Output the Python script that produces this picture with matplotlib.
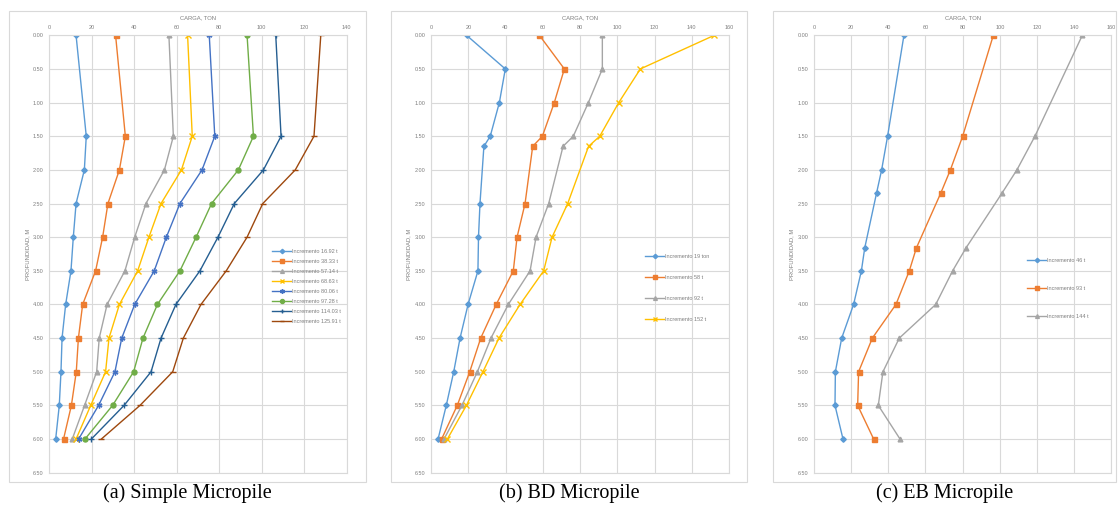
import numpy as np
import matplotlib.pyplot as plt
from matplotlib.patches import Rectangle

plt.rcParams['font.family'] = ['Liberation Sans', 'DejaVu Sans']

# ---- (a) Simple Micropile ----
depth_a = [0.0, 1.5, 2.0, 2.5, 3.0, 3.5, 4.0, 4.5, 5.0, 5.5, 6.0]
labels_a = ["Incremento 16.92 t", "Incremento 38.33 t", "Incremento 57.14 t",
            "Incremento 68.63 t", "Incremento 80.06 t", "Incremento 97.28 t",
            "Incremento 114.03 t", "Incremento 125.91 t"]
load_a1 = [12.6, 17.4, 16.5, 12.6, 11.3, 10.2, 7.7, 6.0, 5.5, 4.7, 3.0]
load_a2 = [31.2, 35.8, 33.0, 27.6, 25.1, 21.8, 15.7, 13.7, 12.7, 10.4, 6.7]
load_a3 = [56.3, 58.4, 54.2, 45.5, 40.2, 35.6, 27.2, 23.5, 22.3, 16.6, 10.8]
load_a4 = [65.1, 67.3, 62.2, 52.6, 46.9, 41.6, 33.0, 28.1, 26.5, 19.5, 12.6]
load_a5 = [75.3, 77.9, 71.9, 61.5, 55.1, 49.4, 40.2, 34.1, 30.9, 23.2, 13.8]
load_a6 = [93.1, 96.1, 89.0, 76.4, 69.1, 61.5, 50.9, 44.1, 39.7, 29.8, 16.8]
load_a7 = [106.6, 109.1, 100.8, 87.1, 79.4, 70.9, 59.6, 52.6, 47.9, 35.2, 19.8]
load_a8 = [127.8, 124.6, 115.8, 100.5, 93.1, 83.3, 71.4, 63.1, 58.1, 42.7, 24.5]

# ---- (b) BD Micropile ----
depth_b = [0.0, 0.5, 1.0, 1.5, 1.65, 2.5, 3.0, 3.5, 4.0, 4.5, 5.0, 5.5, 6.0]
labels_b = ["Incremento 19 ton", "Incremento 58 t", "Incremento 92 t", "Incremento 152 t"]
load_b1 = [19.1, 39.9, 36.7, 31.8, 28.4, 26.3, 25.5, 25.2, 19.9, 15.6, 12.2, 8.2, 3.8]
load_b2 = [58.2, 71.6, 66.2, 59.8, 54.6, 50.5, 46.2, 44.2, 35.0, 26.7, 20.8, 14.1, 5.7]
load_b3 = [92.0, 92.0, 84.5, 76.4, 70.9, 63.2, 56.4, 53.2, 41.5, 32.2, 24.9, 16.6, 7.0]
load_b4 = [152.1, 112.4, 100.8, 90.6, 84.6, 73.4, 65.0, 60.5, 47.8, 36.5, 27.9, 19.0, 8.8]

# ---- (c) EB Micropile ----
depth_c = [0.0, 1.5, 2.0, 2.34, 3.16, 3.5, 4.0, 4.5, 5.0, 5.5, 6.0]
labels_c = ["Incremento 46 t", "Incremento 93 t", "Incremento 144 t"]
load_c1 = [48.4, 39.6, 36.4, 33.7, 27.3, 25.5, 21.3, 14.9, 11.5, 11.3, 15.6]
load_c2 = [96.5, 80.0, 73.4, 68.3, 55.1, 51.3, 44.1, 31.4, 24.0, 23.5, 32.1]
load_c3 = [144.4, 118.9, 109.2, 101.3, 81.8, 74.6, 65.5, 45.9, 37.1, 34.6, 46.3]

captions = ["(a) Simple Micropile", "(b) BD Micropile", "(c) EB Micropile"]

colors = ['#5B9BD5', '#ED7D31', '#A5A5A5', '#FFC000', '#4472C4', '#70AD47', '#255E91', '#9E480E']
markers = ['D', 's', '^', 'x', (6, 2, 0), 'o', '+', '_']
msizes = [2.8, 3.6, 3.4, 4.0, 4.2, 3.6, 4.2, 4.0]

W, H = 1119, 508
fig = plt.figure(figsize=(W / 100, H / 100), dpi=100)

panels = [
    (depth_a, [load_a1, load_a2, load_a3, load_a4, load_a5, load_a6, load_a7, load_a8], labels_a, 140,
     (49.3, 346.7), (9, 366), (0.749, 0.512), 0.9),
    (depth_b, [load_b1, load_b2, load_b3, load_b4], labels_b, 160,
     (431, 729), (391, 747), (0.718, 0.500), 2.9),
    (depth_c, [load_c1, load_c2, load_c3], labels_c, 160,
     (814, 1111.3), (773, 1116), (0.716, 0.490), 4.1),
]

top_px, bot_px = 35.3, 472.7
for i, (depth, series, labels, xmax, (l, r), (fl, fr), leg_pos, lsp) in enumerate(panels):
    ax = fig.add_axes([l / W, (H - bot_px) / H, (r - l) / W, (bot_px - top_px) / H])
    for j, (vals, lab) in enumerate(zip(series, labels)):
        ax.plot(vals, depth, color=colors[j], marker=markers[j], ms=msizes[j],
                lw=1.0, mew=1.0, label=lab)
    ax.set_xlim(0, xmax)
    ax.set_ylim(6.5, 0)
    ax.set_xticks(np.arange(0, xmax + 1, 20))
    ax.set_yticks(np.arange(0, 6.51, 0.5))
    ax.set_yticklabels([f"{v:.2f}" for v in np.arange(0, 6.51, 0.5)])
    ax.xaxis.tick_top()
    ax.xaxis.set_label_position('top')
    ax.tick_params(length=0, labelsize=4, labelcolor='#7F7F7F', pad=4)
    ax.set_xlabel("CARGA, TON", fontsize=4.2, color='#7F7F7F', labelpad=4)
    ax.set_ylabel("PROFUNDIDAD, M", fontsize=4.2, color='#7F7F7F', labelpad=2)
    ax.grid(True, color='#D9D9D9', lw=0.8)
    ax.set_axisbelow(True)
    for s in ax.spines.values():
        s.set_color('#D9D9D9')
        s.set_linewidth(0.8)
    ax.legend(loc='upper left', bbox_to_anchor=leg_pos, frameon=False, fontsize=4,
              labelcolor='#7F7F7F', handlelength=3.5, handletextpad=0.1,
              labelspacing=lsp, borderpad=0, borderaxespad=0, markerscale=0.8)
    # outer chart frame
    fig.patches.append(Rectangle((fl / W, (H - 482) / H), (fr - fl) / W, (482 - 11) / H,
                                 transform=fig.transFigure, fill=False,
                                 edgecolor='#D9D9D9', lw=0.8))
    fig.text((fl + fr) / 2 / W, (H - 493) / H, captions[i], ha='center', va='center',
             fontsize=14.5, family='Liberation Serif')

fig.savefig('out.png', dpi=100, facecolor='white')
